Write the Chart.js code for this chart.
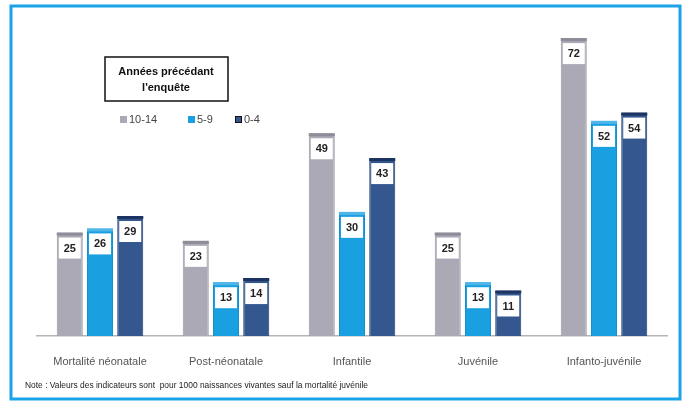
<!doctype html>
<html>
  <head>
    <title>Mortalité par période</title>
    <script src="https://cdn.jsdelivr.net/npm/chart.js"></script>
    <style>
      body {
        margin: 0;
        background: #fff;
      }
      #wrap {
        width: 685px;
        height: 403px;
      }
    </style>
  </head>
  <body>
    <div id="wrap"><canvas id="chart" width="685" height="403"></canvas></div>

    <script>
      const categories = ['Mortalité néonatale', 'Post-néonatale', 'Infantile', 'Juvénile', 'Infanto-juvénile'];
      const periods = ['10-14', '5-9', '0-4'];
      const values1014 = [25, 23, 49, 25, 72];
      const values59 = [26, 13, 30, 13, 52];
      const values04 = [29, 14, 43, 11, 54];

      const fills = ['#aba9b5', '#1a9fe0', '#34578f'];
      const edges = ['#9a98a4', '#1690cc', '#223f6e'];
      const caps = ['#8e8c98', '#4fb6ea', '#1c3461'];

      const legendTitle = ['Années précédant', "l'enquête"];
      const note = 'Note : Valeurs des indicateurs sont  pour 1000 naissances vivantes sauf la mortalité juvénile';

      // frame, legend, value boxes and note drawn on the canvas
      const decor = {
        id: 'decor',
        beforeDraw(chart) {
          const ctx = chart.ctx;
          ctx.save();
          ctx.fillStyle = '#fff';
          ctx.fillRect(0, 0, chart.width, chart.height);
          ctx.restore();
        },
        afterDatasetsDraw(chart) {
          const ctx = chart.ctx;
          ctx.save();
          chart.data.datasets.forEach((ds, i) => {
            chart.getDatasetMeta(i).data.forEach((bar, j) => {
              const w = bar.width;
              const x0 = bar.x - w / 2;
              const top = bar.y;
              // cap band
              ctx.fillStyle = caps[i];
              ctx.fillRect(x0, top, w, 3);
              // white value box
              ctx.fillStyle = '#fff';
              ctx.fillRect(x0 + 2, top + 5, w - 4, 21);
              ctx.fillStyle = '#222';
              ctx.font = 'bold 11px "Liberation Sans", Arial, sans-serif';
              ctx.textAlign = 'center';
              ctx.textBaseline = 'middle';
              ctx.fillText(String(ds.data[j]), bar.x, top + 16);
            });
          });
          ctx.restore();
        },
        afterDraw(chart) {
          const ctx = chart.ctx;
          ctx.save();

          // outer blue frame
          ctx.strokeStyle = '#1aa3e8';
          ctx.lineWidth = 3;
          ctx.strokeRect(11, 6, 669, 393);

          // legend title box
          ctx.strokeStyle = '#111';
          ctx.lineWidth = 1.5;
          ctx.strokeRect(105, 57, 123, 44);
          ctx.fillStyle = '#111';
          ctx.font = 'bold 11px "Liberation Sans", Arial, sans-serif';
          ctx.textAlign = 'center';
          ctx.textBaseline = 'middle';
          ctx.fillText(legendTitle[0], 166, 72);
          ctx.fillText(legendTitle[1], 166, 88);

          // legend entries
          const xs = [120, 188, 235];
          ctx.font = '11px "Liberation Sans", Arial, sans-serif';
          ctx.textAlign = 'left';
          periods.forEach((p, i) => {
            ctx.fillStyle = fills[i];
            ctx.fillRect(xs[i], 116, 7, 7);
            if (i === 2) {
              ctx.strokeStyle = '#111';
              ctx.lineWidth = 1;
              ctx.strokeRect(xs[i] + 0.5, 116.5, 6, 6);
            }
            ctx.fillStyle = '#444';
            ctx.fillText(p, xs[i] + 9, 120);
          });

          // note
          ctx.fillStyle = '#222';
          ctx.font = '9px "Liberation Sans", Arial, sans-serif';
          ctx.textBaseline = 'middle';
          ctx.fillText(note, 25, 386, 343);

          ctx.restore();
        },
      };

      const series = [values1014, values59, values04];

      new Chart(document.getElementById('chart'), {
        type: 'bar',
        data: {
          labels: categories,
          datasets: series.map((vals, i) => ({
            label: periods[i],
            data: vals,
            backgroundColor: fills[i],
            borderColor: edges[i],
            borderWidth: 1,
            categoryPercentage: 0.72,
            barPercentage: 0.86,
          })),
        },
        options: {
          responsive: false,
          animation: false,
          layout: { padding: { left: 37, right: 18, top: 5, bottom: 0 } },
          plugins: {
            legend: { display: false },
            tooltip: { enabled: false },
          },
          scales: {
            x: {
              grid: { display: false },
              border: { display: true, color: '#b5b5b5', width: 1.5 },
              ticks: {
                color: '#555',
                padding: 11,
                font: { size: 11, family: '"Liberation Sans", Arial, sans-serif' },
              },
              afterFit(scale) {
                scale.height = 67;
              },
            },
            y: {
              display: false,
              min: 0,
              max: 80,
            },
          },
        },
        plugins: [decor],
      });
    </script>
  </body>
</html>
